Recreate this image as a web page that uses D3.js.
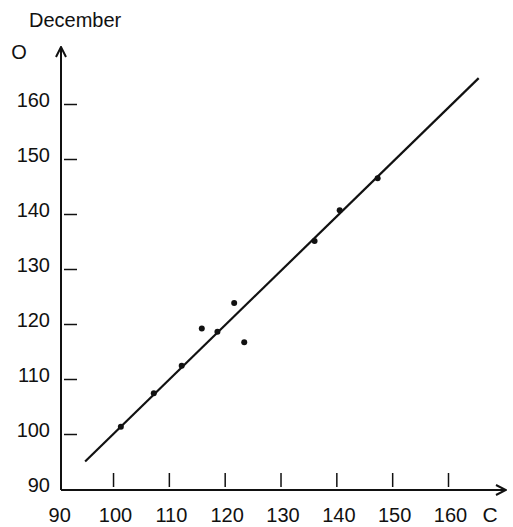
<!DOCTYPE html>
<html>
<head>
<meta charset="utf-8">
<script src="https://cdn.jsdelivr.net/npm/d3@7"></script>
<style>
  body { margin: 0; background: #fff; }
  text { font-family: "Liberation Sans", sans-serif; fill: #111; }
</style>
</head>
<body>
<svg></svg>
<script>
// C (calculated) vs O (observed), December
const tickValues = [90, 100, 110, 120, 130, 140, 150, 160];
const cValues = [101.4, 107.3, 112.3, 115.9, 118.7, 121.7, 123.5, 136.1, 140.6, 147.4];
const oValues = [101.3, 107.4, 112.4, 119.2, 118.6, 123.8, 116.7, 135.1, 140.7, 146.5];
const fitC = [95, 165.5];
const fitO = [95, 164.7];

let width = 513;
let height = 527;

let svg = d3.select('svg')
  .attr('width', width)
  .attr('height', height);

let x = d3.scaleLinear().domain([90, 160]).range([57.2, 448]);
let y = d3.scaleLinear().domain([90, 160]).range([489, 104]);

let ox = 61, oy = 490;

svg.append('defs').append('marker')
    .attr('id', 'arrow')
    .attr('viewBox', '0 0 12 12')
    .attr('refX', 11).attr('refY', 6)
    .attr('markerWidth', 12).attr('markerHeight', 12)
    .attr('markerUnits', 'userSpaceOnUse')
    .attr('orient', 'auto')
  .append('path')
    .attr('d', 'M1,1 L11,6 L1,11')
    .attr('fill', 'none')
    .attr('stroke', '#111')
    .attr('stroke-width', 2);

// axis lines with arrows
svg.append('line')
  .attr('x1', ox).attr('y1', oy).attr('x2', 506).attr('y2', oy)
  .attr('stroke', '#111').attr('stroke-width', 2)
  .attr('marker-end', 'url(#arrow)');
svg.append('line')
  .attr('x1', ox).attr('y1', oy).attr('x2', ox).attr('y2', 47)
  .attr('stroke', '#111').attr('stroke-width', 2)
  .attr('marker-end', 'url(#arrow)');

// x axis ticks & labels
let gx = svg.append('g')
  .attr('transform', `translate(0,${oy})`)
  .call(d3.axisBottom(x).tickValues(tickValues).tickSize(-17).tickPadding(18));
gx.select('.domain').remove();
gx.selectAll('.tick line')
  .attr('y1', -3)
  .attr('stroke', '#111').attr('stroke-width', 1.5)
  .attr('display', d => d === 90 ? 'none' : null);
gx.selectAll('.tick text')
  .attr('dx', 2)
  .style('font-size', '20px');

// y axis ticks & labels (hand-lettered slightly above each tick)
let gy = svg.append('g')
  .attr('transform', `translate(${ox},0)`)
  .call(d3.axisLeft(y).tickValues(tickValues).tickSize(-16).tickPadding(11));
gy.select('.domain').remove();
gy.selectAll('.tick line')
  .attr('x1', 3)
  .attr('stroke', '#111').attr('stroke-width', 1.5)
  .attr('display', d => d === 90 ? 'none' : null);
gy.selectAll('.tick text')
  .attr('dy', '0.1em')
  .style('font-size', '20px');

// fitted line
svg.append('line')
  .attr('x1', x(fitC[0])).attr('y1', y(fitO[0]))
  .attr('x2', x(fitC[1])).attr('y2', y(fitO[1]))
  .attr('stroke', '#111').attr('stroke-width', 2.2);

// points
svg.selectAll('.pt')
  .data(cValues)
  .enter()
  .append('circle')
    .classed('pt', true)
    .attr('cx', d => x(d))
    .attr('cy', (d, i) => y(oValues[i]))
    .attr('r', 3)
    .attr('fill', '#111');

// labels
svg.append('text')
  .attr('x', 29).attr('y', 27)
  .style('font-size', '20px')
  .text('December');
svg.append('text')
  .attr('x', 19).attr('y', 59)
  .attr('text-anchor', 'middle')
  .style('font-size', '20px')
  .text('O');
svg.append('text')
  .attr('x', 490).attr('y', 522)
  .attr('text-anchor', 'middle')
  .style('font-size', '21px')
  .text('C');
</script>
</body>
</html>
